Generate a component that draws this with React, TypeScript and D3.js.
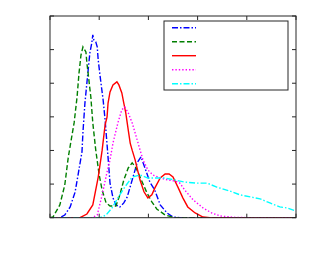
import React from "react";
import * as d3 from "d3";

const xTicks = [0, 1, 2, 3, 4, 5];
const yTicks = [0, 1, 2, 3, 4, 5, 6];

const seriesNames = ["s1", "s2", "s3", "s4", "s5"];

const blueX = [0, 0.2, 0.3, 0.41, 0.51, 0.57, 0.65, 0.67, 0.71, 0.77, 0.81, 0.85, 0.87, 0.89, 0.93, 0.96, 0.98, 1.02, 1.08, 1.12, 1.16, 1.22, 1.28, 1.34, 1.42, 1.5, 1.57, 1.67, 1.77, 1.85, 1.93, 2.03, 2.13, 2.24, 2.38, 2.5, 2.64, 5];
const blueY = [0, 0, 0.08, 0.32, 0.76, 1.27, 1.96, 2.55, 3.41, 4.31, 4.9, 5.2, 5.44, 5.29, 5.23, 5.08, 4.69, 4.19, 3.5, 2.91, 2.17, 1.03, 0.59, 0.38, 0.32, 0.44, 0.62, 1.12, 1.63, 1.81, 1.48, 1.06, 0.82, 0.38, 0.14, 0.02, 0, 0];

const greenX = [0, 0.06, 0.2, 0.3, 0.37, 0.43, 0.49, 0.55, 0.59, 0.63, 0.67, 0.73, 0.75, 0.79, 0.83, 0.87, 0.93, 1.0, 1.06, 1.14, 1.22, 1.34, 1.42, 1.5, 1.59, 1.67, 1.75, 1.83, 1.97, 2.07, 2.17, 2.34, 2.54, 5];
const greenY = [0, 0.02, 0.38, 0.97, 1.78, 2.31, 2.82, 3.59, 4.31, 4.84, 5.08, 4.93, 4.6, 4.1, 3.59, 2.82, 2.01, 1.27, 0.82, 0.44, 0.35, 0.35, 0.68, 1.12, 1.48, 1.63, 1.48, 1.21, 0.74, 0.47, 0.26, 0.08, 0, 0];

const redX = [0, 0.61, 0.75, 0.87, 0.98, 1.06, 1.12, 1.16, 1.18, 1.22, 1.28, 1.36, 1.4, 1.46, 1.5, 1.54, 1.59, 1.63, 1.67, 1.73, 1.83, 1.91, 1.99, 2.07, 2.13, 2.24, 2.34, 2.42, 2.5, 2.6, 2.7, 2.8, 2.95, 3.11, 3.25, 5];
const redY = [0, 0, 0.11, 0.38, 1.21, 2.01, 2.76, 3.0, 3.41, 3.74, 3.95, 4.04, 3.95, 3.71, 3.41, 3.12, 2.61, 2.22, 2.01, 1.72, 1.12, 0.77, 0.59, 0.68, 0.88, 1.18, 1.3, 1.3, 1.21, 0.91, 0.59, 0.32, 0.14, 0.02, 0, 0];

const magentaX = [0, 0.85, 0.96, 1.06, 1.16, 1.22, 1.28, 1.38, 1.46, 1.52, 1.59, 1.67, 1.73, 1.79, 1.89, 1.99, 2.09, 2.24, 2.4, 2.54, 2.64, 2.74, 2.91, 3.11, 3.29, 3.46, 3.76, 4.07, 5];
const magentaY = [0, 0, 0.08, 0.68, 1.36, 1.72, 2.22, 2.82, 3.21, 3.29, 3.12, 2.82, 2.52, 2.22, 1.72, 1.42, 1.27, 1.18, 1.12, 1.09, 1.03, 0.82, 0.53, 0.29, 0.14, 0.05, 0.01, 0, 0];

const cyanX = [0, 1.02, 1.14, 1.26, 1.38, 1.52, 1.67, 1.83, 1.99, 2.15, 2.34, 2.54, 2.74, 2.95, 3.19, 3.39, 3.66, 3.86, 4.07, 4.27, 4.47, 4.67, 4.82, 5.0];
const cyanY = [0, 0, 0.08, 0.29, 0.59, 0.91, 1.21, 1.27, 1.18, 1.18, 1.18, 1.12, 1.06, 1.03, 1.03, 0.91, 0.79, 0.68, 0.62, 0.56, 0.44, 0.32, 0.29, 0.2];

const W = 313;
const H = 263;
const M = { left: 50, right: 17, top: 16, bottom: 45.3 };

export default function App() {
  const x = d3.scaleLinear().domain([0, 5]).range([M.left, W - M.right]);
  const y = d3.scaleLinear().domain([0, 6]).range([H - M.bottom, M.top]);
  const line = d3
    .line<[number, number]>()
    .x((d) => x(d[0]))
    .y((d) => y(d[1]));

  const zip = (a: number[], b: number[]) => a.map((v, i) => [v, b[i]] as [number, number]);

  const series = [
    { name: seriesNames[0], xs: blueX, ys: blueY, color: "#0000ff", dash: "6,2,1.5,2" },
    { name: seriesNames[1], xs: greenX, ys: greenY, color: "#007f00", dash: "5,2.5" },
    { name: seriesNames[2], xs: redX, ys: redY, color: "#ff0000", dash: "" },
    { name: seriesNames[3], xs: magentaX, ys: magentaY, color: "#ff00ff", dash: "1.4,2" },
    { name: seriesNames[4], xs: cyanX, ys: cyanY, color: "#00ffff", dash: "6,2,1.5,2" },
  ];

  const x0 = M.left;
  const x1 = W - M.right;
  const y0 = H - M.bottom;
  const y1 = M.top;
  const tl = 4;

  const lgX = 164;
  const lgY = 21;
  const lgW = 124;
  const lgH = 69;

  return (
    <svg
      width={W}
      height={H}
      style={{ position: "absolute", left: 0, top: 0, background: "#fff" }}
    >
      <rect x={0} y={0} width={W} height={H} fill="#fff" />
      <defs>
        <clipPath id="plotclip">
          <rect x={x0} y={y1} width={x1 - x0} height={y0 - y1} />
        </clipPath>
      </defs>
      <g clipPath="url(#plotclip)">
        {series.map((s) => (
          <path
            key={s.name}
            d={line(zip(s.xs, s.ys)) || ""}
            fill="none"
            stroke={s.color}
            strokeWidth={1.4}
            strokeDasharray={s.dash || undefined}
          />
        ))}
      </g>
      <g stroke="#262626" strokeWidth={1}>
        {xTicks.map((t) => (
          <g key={"xt" + t}>
            <line x1={x(t)} x2={x(t)} y1={y0} y2={y0 - tl} />
            <line x1={x(t)} x2={x(t)} y1={y1} y2={y1 + tl} />
          </g>
        ))}
        {yTicks.map((t) => (
          <g key={"yt" + t}>
            <line x1={x0} x2={x0 + tl} y1={y(t)} y2={y(t)} />
            <line x1={x1} x2={x1 - tl} y1={y(t)} y2={y(t)} />
          </g>
        ))}
      </g>
      <rect
        x={x0}
        y={y1}
        width={x1 - x0}
        height={y0 - y1}
        fill="none"
        stroke="#262626"
        strokeWidth={1}
      />
      <rect x={lgX} y={lgY} width={lgW} height={lgH} fill="#fff" stroke="#262626" strokeWidth={1} />
      {series.map((s, i) => (
        <line
          key={"lg" + s.name}
          x1={lgX + 8}
          x2={lgX + 32}
          y1={lgY + 6.7 + i * 14}
          y2={lgY + 6.7 + i * 14}
          stroke={s.color}
          strokeWidth={1.4}
          strokeDasharray={s.dash || undefined}
        />
      ))}
    </svg>
  );
}
